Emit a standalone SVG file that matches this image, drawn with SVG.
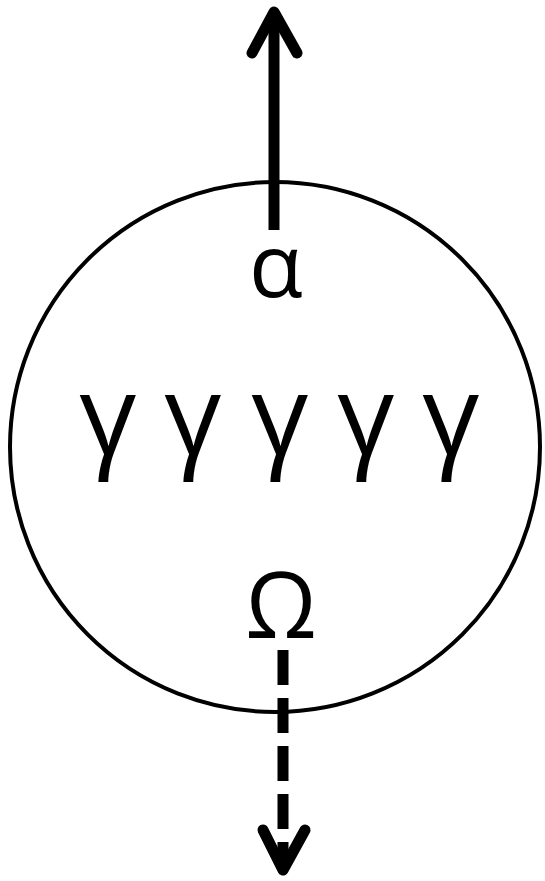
<svg xmlns="http://www.w3.org/2000/svg" width="545" height="881" viewBox="0 0 545 881">
<style>
.lbl{font-family:"Open Sans","DejaVu Sans",sans-serif;fill:#000;text-anchor:middle}
.arr{fill:none;stroke:#000;stroke-width:11;stroke-linecap:round;stroke-linejoin:round}
</style>
<rect width="545" height="881" fill="#fff"/>
<g id="cell">
<circle cx="275" cy="447" r="265" fill="none" stroke="#000" stroke-width="4"/>
<text class="lbl" x="276" y="297" font-size="88">α</text>
<g font-size="112">
<text class="lbl" x="108" y="455">γ</text>
<text class="lbl" x="193" y="455">γ</text>
<text class="lbl" x="280" y="455">γ</text>
<text class="lbl" x="366" y="455">γ</text>
<text class="lbl" x="451" y="455">γ</text>
</g>
<text class="lbl" x="281" y="638" font-size="91">Ω</text>
</g>
<g id="connectors">
<line x1="274" y1="230" x2="274" y2="14" stroke="#000" stroke-width="11"/>
<polyline class="arr" points="252,53 274,12 297,53"/>
<line x1="283" y1="650" x2="283" y2="868" stroke="#000" stroke-width="11" stroke-dasharray="35,13"/>
<polyline class="arr" points="263,830 283,870 305,830"/>
</g>
</svg>
